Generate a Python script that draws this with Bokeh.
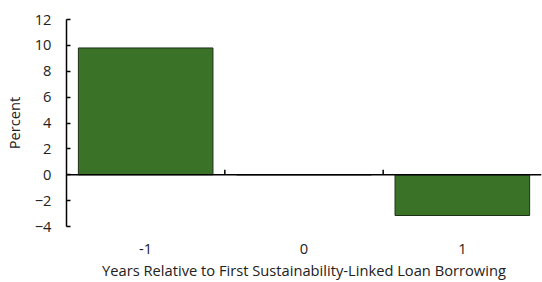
import math
from bokeh.plotting import figure
from bokeh.models import (Range1d, FixedTicker, Grid, Span, ColumnDataSource)
from bokeh.embed import file_html
from bokeh.resources import INLINE

# Data
years = [-1, 0, 1]
year_labels = ["-1", "0", "1"]
percent = [9.8, 0.0, -3.15]
y_ticks = [-4, -2, 0, 2, 4, 6, 8, 10, 12]
y_min, y_max = -4, 12
x_title = "Years Relative to First Sustainability-Linked Loan Borrowing"
y_title = "Percent"

FONT = "Open Sans"
FS = "14.7px"
TXT = "#222222"
BAR_COLOR = "#3a7228"

src = ColumnDataSource(data=dict(x=years, top=percent))

x_lo, x_hi = years[0] - 0.5, years[-1] + 0.5
p = figure(width=542, height=282, output_backend="svg", toolbar_location=None,
           x_range=Range1d(x_lo, x_hi),
           y_range=Range1d(y_min, y_max),
           min_border_left=0, min_border_right=1, min_border_top=19, min_border_bottom=0)
p.outline_line_color = None
p.background_fill_color = "white"
p.border_fill_color = "white"

# Grid: top line and faint bottom line
p.xgrid.visible = False
p.ygrid.visible = False
p.add_layout(Grid(dimension=1, ticker=FixedTicker(ticks=[y_max]),
                  grid_line_color="#c4c4c4", grid_line_width=1.2))
p.add_layout(Grid(dimension=1, ticker=FixedTicker(ticks=[y_min]),
                  grid_line_color="#eeeeee", grid_line_width=1))

p.vbar(x="x", top="top", bottom=0, width=0.85, source=src,
       fill_color=BAR_COLOR, line_color="#1f2f18", line_width=1)

# Zero line with upward ticks between categories
p.add_layout(Span(location=0, dimension="width", line_color="black", line_width=1.5))
boundaries = [(a + b) / 2 for a, b in zip(years[:-1], years[1:])]
p.ray(x=boundaries, y=[0] * len(boundaries), length=5, length_units="screen",
      angle=math.pi / 2, line_color="black", line_width=1.5)

# Y axis
ya = p.yaxis[0]
ya.ticker = FixedTicker(ticks=y_ticks)
ya.axis_label = y_title
ya.axis_label_text_font = FONT
ya.axis_label_text_font_size = FS
ya.axis_label_text_font_style = "normal"
ya.axis_label_text_color = TXT
ya.axis_label_standoff = 8
ya.major_label_text_font = FONT
ya.major_label_text_font_size = FS
ya.major_label_text_color = TXT
ya.major_label_standoff = 15
ya.major_tick_in = 4
ya.major_tick_out = 0
ya.minor_tick_line_color = None
ya.minor_tick_in = 0
ya.minor_tick_out = 0
ya.axis_line_color = "black"
ya.axis_line_width = 1.5
ya.major_tick_line_color = "black"
ya.major_tick_line_width = 1.5

# Bottom category axis (labels + title)
xa = p.xaxis[0]
xa.ticker = FixedTicker(ticks=years)
xa.major_label_overrides = {y: l for y, l in zip(years, year_labels)}
xa.axis_label = x_title
xa.axis_label_text_font = FONT
xa.axis_label_text_font_size = FS
xa.axis_label_text_font_style = "normal"
xa.axis_label_text_color = TXT
xa.axis_label_standoff = 3
xa.major_label_text_font = FONT
xa.major_label_text_font_size = FS
xa.major_label_text_color = TXT
xa.major_label_standoff = 17
xa.major_tick_in = 0
xa.major_tick_out = 0
xa.minor_tick_in = 0
xa.minor_tick_out = 0
xa.axis_line_color = None
xa.major_tick_line_color = None
xa.minor_tick_line_color = None

open("out.html", "w").write(file_html(p, INLINE))
